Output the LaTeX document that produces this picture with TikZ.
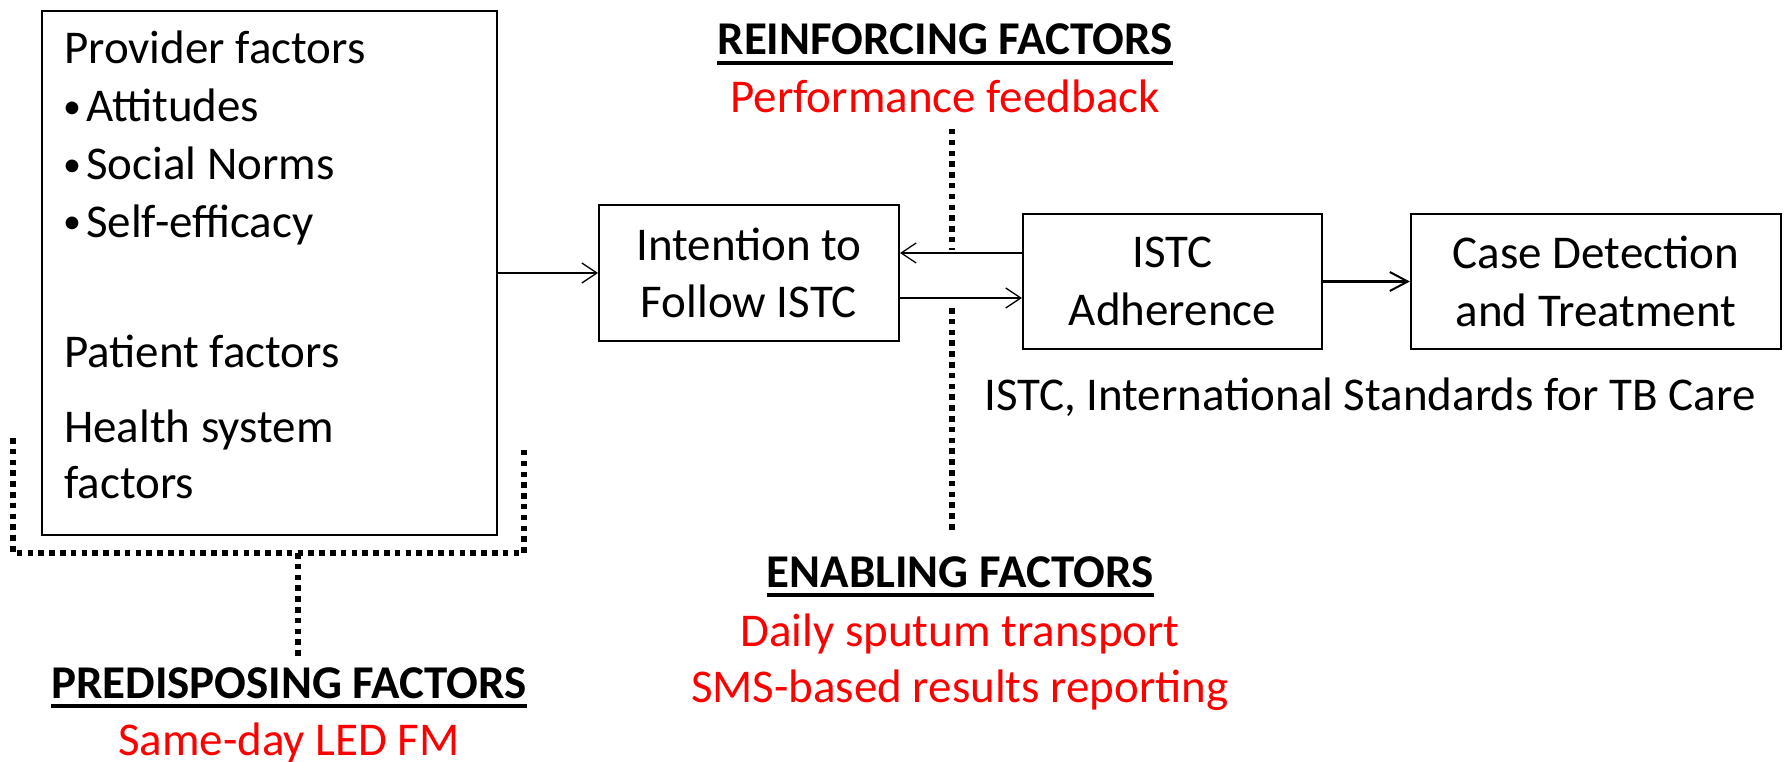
\documentclass[tikz,border=0pt]{standalone}
\usepackage{fontspec}
\setmainfont{Carlito}
\usetikzlibrary{arrows.meta}
\begin{document}
\begin{tikzpicture}[x=1pt,y=-1pt,
  txt/.style={inner sep=0pt, font=\fontsize{47pt}{57.5pt}\selectfont},
  bul/.style={inner sep=0pt, font=\fontsize{36pt}{40pt}\selectfont},
  hdr/.style={inner sep=0pt, font=\fontsize{47pt}{57.5pt}\selectfont\bfseries},
  redtxt/.style={txt, text=red},
  box/.style={draw, line width=2.2pt, inner sep=0pt, align=center, font=\fontsize{47pt}{57.5pt}\selectfont},
  thinarrow/.style={-{Straight Barb[length=15pt,width=20pt,line width=1.3pt]}, line width=1.3pt},
  thickarrow/.style={-{Straight Barb[length=18pt,width=19pt,line width=2pt]}, line width=2.6pt},
  dots/.style={line width=5.5pt, dash pattern=on 5.5pt off 5.3pt},
  uline/.style={line width=3.5pt}
]
\useasboundingbox (0,0) rectangle (1786,762);

% boxes
\node[box, minimum width=455pt, minimum height=524pt] (left) at (269.5,273) {};
\node[box, line width=2pt, minimum width=300pt, minimum height=136pt] (int) at (749,273) {Intention to\\Follow ISTC};
\node[box, minimum width=299pt, minimum height=135pt] (istc) at (1172.5,281.5) {ISTC\\Adherence};
\node[box, minimum width=370pt, minimum height=135pt] (case) at (1596,281.5) {Case Detection\\and Treatment};

% left box contents
\node[txt, anchor=base west] (prov) at (64,64) {Provider factors};
\node[bul, anchor=base west] (b1) at (63,119) {•};
\node[txt, anchor=base west] (att) at (86,122) {Attitudes};
\node[bul, anchor=base west] (b2) at (63,177) {•};
\node[txt, anchor=base west] (soc) at (86,180) {Social Norms};
\node[bul, anchor=base west] (b3) at (63,234) {•};
\node[txt, anchor=base west] (self) at (86,237) {Self-efficacy};
\node[txt, anchor=base west] (pat) at (64,367) {Patient factors};
\node[txt, anchor=base west] (hs1) at (64,442) {Health system};
\node[txt, anchor=base west] (hs2) at (64,498) {factors};

% note
\node[txt, anchor=base] (note) at (1370,410) {ISTC, International Standards for TB Care};

% headers
\node[hdr, anchor=base] (reinf) at (945,55) {REINFORCING FACTORS};
\draw[uline] ([yshift=-8pt]reinf.base west) -- ([yshift=-8pt]reinf.base east);
\node[redtxt, anchor=base] (perf) at (945,113) {Performance feedback};

\node[hdr, anchor=base] (enab) at (960,587) {ENABLING FACTORS};
\draw[uline] ([yshift=-8pt]enab.base west) -- ([yshift=-8pt]enab.base east);
\node[redtxt, anchor=base] (daily) at (960,646) {Daily sputum transport};
\node[redtxt, anchor=base] (sms) at (960,702) {SMS-based results reporting};

\node[hdr, anchor=base] (pred) at (289,698) {PREDISPOSING FACTORS};
\draw[uline] ([yshift=-8pt]pred.base west) -- ([yshift=-8pt]pred.base east);
\node[redtxt, anchor=base] (same) at (289,755) {Same-day LED FM};

% arrows
\draw[thinarrow, line width=1.8pt] (left.east) -- (int.west);
\draw[thinarrow] ([yshift=28.5pt]istc.west) -- ([yshift=28.5pt]istc.west -| int.east);
\draw[thinarrow] ([yshift=-25pt]int.east) -- ([yshift=-25pt]int.east -| istc.west);
\draw[thickarrow] (istc.east) -- (case.west);

% dotted connectors
\coordinate (rtop) at (952,129);
\coordinate (rbot) at (952,250);
\coordinate (etop) at (952,308);
\coordinate (ebot) at (952,532);
\draw[dots] (rtop) -- (rbot);
\draw[dots] (etop) -- (ebot);

\coordinate (bl1) at (13,438);
\coordinate (bl2) at (13,553);
\coordinate (br2) at (524,553);
\coordinate (br1) at (524,445);
\coordinate (bm1) at (298,553);
\coordinate (bm2) at (298,658);
\draw[dots] (bl1) -- (bl2) -- (br2) -- (br1);
\draw[dots] (bm1) -- (bm2);
\end{tikzpicture}
\end{document}
